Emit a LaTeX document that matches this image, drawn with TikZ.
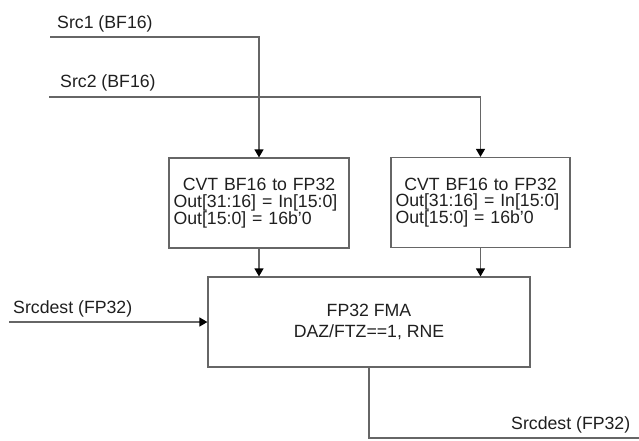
\documentclass[tikz,border=0pt]{standalone}
\usepackage{fontspec}
\setmainfont{Liberation Sans}
\usepackage{xcolor}
\usetikzlibrary{arrows.meta, positioning, calc}

\begin{document}
\begin{tikzpicture}[
      x=1pt, y=-1pt,
      wire/.style={draw=black!60, line width=1.2pt},
      arrow/.style={wire, -{Triangle[length=8pt, width=9pt, color=black]}},
      cvtbox/.style={rectangle, draw=black!60, line width=1.2pt, minimum width=180pt, minimum height=90pt,
        text width=171pt, inner xsep=4.5pt, align=left, text=black!88,
        font=\fontsize{17.7}{16.8}\selectfont},
      fmabox/.style={rectangle, draw=black!60, line width=1.2pt, minimum width=322pt, minimum height=90pt,
        align=center, text=black!88, font=\fontsize{17.7}{21.7}\selectfont},
      label/.style={anchor=base west, inner sep=0pt, text=black!88, font=\fontsize{17.7}{21}\selectfont}
    ]
    \useasboundingbox (0,0) rectangle (639,440);

    % Blocks
    \node[cvtbox] (cvtL) at (259,203) {\makebox[171pt]{CVT BF16 to FP32}\\Out[31:16] = In[15:0]\\Out[15:0] = 16b'0};
    \node[cvtbox, minimum width=179pt, text width=170pt] (cvtR) at (480.5,202.5) {\makebox[170pt]{CVT BF16 to FP32}\\Out[31:16] = In[15:0]\\Out[15:0] = 16b'0};
    \node[fmabox] (fma) at (369,322) {FP32 FMA\\DAZ/FTZ==1, RNE};

    % Wire ends
    \coordinate (src1) at (50,37);
    \coordinate (src2) at (49,97);
    \coordinate (sdin) at (9,322);
    \coordinate (sdout) at (639,438);

    % Labels
    \node[label] (src1lbl) at (57,28) {Src1 (BF16)};
    \node[label] (src2lbl) at (60,87) {Src2 (BF16)};
    \node[label] (sdinlbl) at (13,313) {Srcdest (FP32)};
    \node[label] (sdoutlbl) at (511,429) {Srcdest (FP32)};

    % Connections
    \draw[arrow] (src1) -| (cvtL);
    \draw[arrow] (src2) -| (cvtR);
    \draw[arrow] (cvtL.south) -- (cvtL.south |- fma.north);
    \draw[arrow] (cvtR.south) -- (cvtR.south |- fma.north);
    \draw[arrow] (sdin) -- (fma);
    \draw[wire] (fma.south) |- (sdout);
  \end{tikzpicture}
\end{document}
